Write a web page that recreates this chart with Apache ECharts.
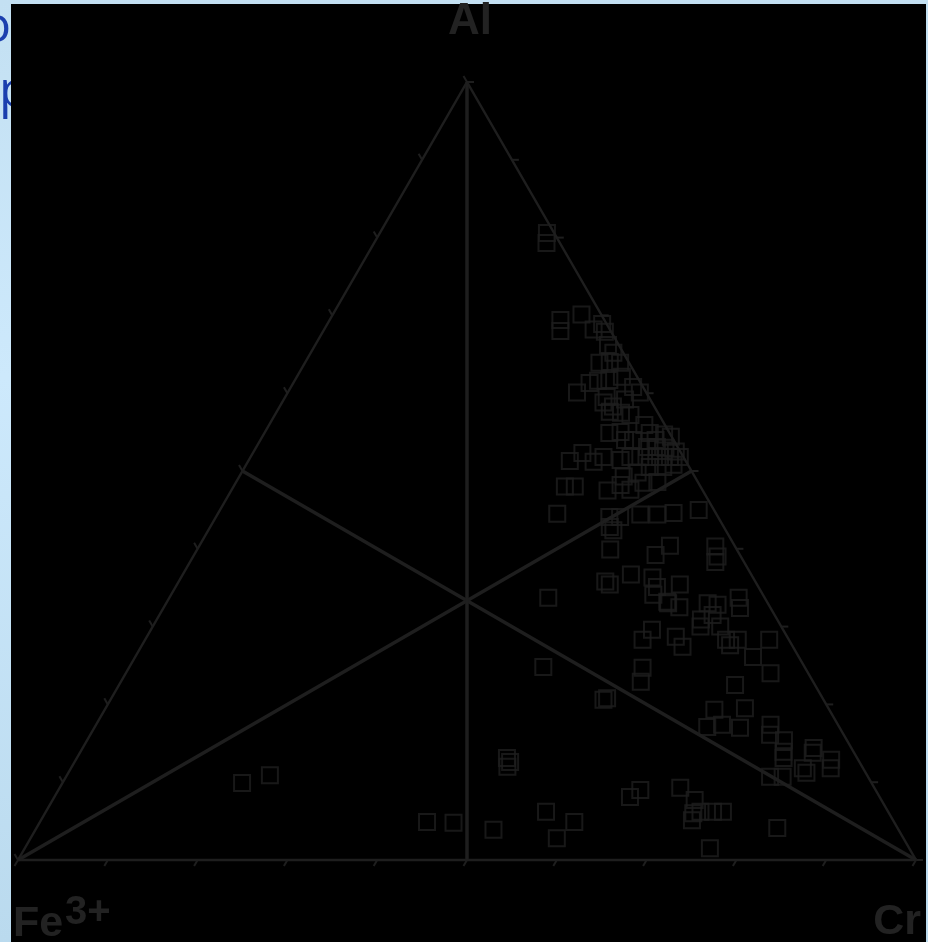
<!DOCTYPE html>
<html>
<head>
<meta charset="utf-8">
<script src="https://cdn.jsdelivr.net/npm/echarts/dist/echarts.min.js"></script>
<style>
  html, body { margin: 0; padding: 0; background: #c6e2f4; }
  #chart { width: 928px; height: 942px; }
</style>
</head>
<body>
<div id="chart"></div>
<script>
// Ternary diagram Al – Cr – Fe3+ (spinel compositions, in %)
const tickSteps = [0, 10, 20, 30, 40, 50, 60, 70, 80, 90, 100];

// Al and Cr percentages of each analysis; Fe3+ is the remainder to 100
const alPct = [
  80.6, 79.3, 69.4, 68.0, 70.1, 68.2, 68.9, 67.9, 66.2, 63.9,
  64.0, 63.9, 65.2, 62.1, 61.3, 60.1, 61.6, 61.7, 60.8, 60.1,
  58.8, 57.6, 57.5, 57.2, 59.5, 54.9, 55.0, 54.9, 54.7, 54.4,
  54.0, 53.1, 53.1, 52.3, 51.3, 51.2, 51.8, 51.4, 51.8, 51.8,
  51.8, 51.8, 51.8, 51.8, 49.3, 49.8, 50.5, 50.5, 50.8, 48.0,
  48.0, 47.5, 48.2, 47.6, 48.5, 48.6, 44.5, 44.1, 44.1, 44.4,
  44.4, 44.6, 45.0, 42.4, 39.9, 40.4, 39.2, 40.3, 39.0, 38.3,
  35.8, 35.4, 36.7, 36.3, 35.1, 34.1, 35.4, 33.7, 33.0, 32.5,
  33.0, 32.8, 33.7, 32.4, 30.9, 31.5, 30.0, 30.0, 29.6, 28.3,
  28.7, 27.4, 28.3, 27.6, 28.3, 28.3, 26.1, 24.8, 24.7, 22.9,
  24.0, 22.5, 20.6, 20.8, 19.3, 19.5, 17.1, 17.4, 17.0, 17.4,
  16.1, 15.4, 13.9, 13.1, 14.4, 13.8, 12.9, 11.8, 11.8, 11.2,
  10.7, 10.7, 13.1, 12.6, 12.0, 9.0, 8.1, 9.3, 7.7, 6.0,
  5.1, 6.2, 6.2, 6.2, 4.1, 1.5, 4.9, 4.8, 3.9, 6.2,
  4.9, 2.8, 9.9, 10.9, 59.2, 55.9, 54.0, 53.0, 52.5, 58.3,
  54.0, 42.8, 33.2
];
const crPct = [
  18.6, 19.2, 25.7, 26.4, 27.7, 30.0, 30.6, 31.4, 32.6, 32.8,
  33.9, 35.1, 33.7, 36.2, 33.0, 32.2, 33.8, 35.0, 38.1, 39.2,
  35.8, 37.1, 38.4, 39.6, 35.8, 38.4, 39.6, 42.9, 44.6, 45.5,
  41.5, 43.5, 44.6, 36.7, 35.8, 38.5, 39.3, 41.4, 42.3, 43.4,
  44.5, 45.6, 46.7, 47.8, 42.8, 44.1, 45.1, 46.6, 47.6, 36.9,
  38.0, 41.9, 43.0, 44.4, 45.4, 46.9, 37.8, 43.8, 45.0, 47.1,
  49.0, 50.7, 53.3, 45.1, 46.0, 52.4, 51.4, 57.5, 58.4, 58.5,
  47.5, 48.2, 49.9, 52.5, 53.6, 53.7, 56.0, 42.2, 55.9, 57.4,
  60.3, 61.5, 63.4, 64.2, 60.6, 61.6, 61.0, 63.2, 55.8, 55.4,
  58.9, 60.3, 64.7, 65.5, 66.0, 69.5, 68.8, 46.1, 57.2, 57.9,
  71.8, 68.6, 54.9, 55.2, 67.9, 71.2, 68.2, 69.7, 71.9, 75.1,
  75.7, 77.6, 78.3, 78.7, 81.4, 81.6, 84.1, 84.6, 81.5, 82.2,
  78.4, 79.8, 47.9, 48.5, 48.5, 64.8, 64.1, 69.1, 71.5, 72.2,
  72.5, 74.3, 75.4, 72.9, 82.5, 76.3, 43.1, 46.1, 51.0, 55.7,
  59.5, 58.6, 20.0, 22.6, 38.0, 41.8, 44.0, 45.6, 47.0, 37.1,
  40.6, 44.5, 55.7
];

const LINE = '#1e1e1e';
const TEXT = '#222222';
const H = Math.sqrt(3) / 2;
const TICK_LEN = 7;

// ternary (Al %, Cr %) -> plane coordinates, Fe3+ corner at origin, Cr corner at (1, 0)
function toXY(al, cr) {
  return [cr / 100 + al / 200, (al / 100) * H];
}

const FE = toXY(0, 0), CR = toXY(0, 100), AL = toXY(100, 0);

// tick marks along the three edges: 0 = Fe–Cr base, 1 = Fe–Al side, 2 = Cr–Al side
const tickDirs = [[-0.5, H], [-0.5, -H], [1, 0]];
const tickData = [];
tickSteps.forEach(t => {
  tickData.push(toXY(0, t).concat(0));
  tickData.push(toXY(t, 0).concat(1));
  tickData.push(toXY(t, 100 - t).concat(2));
});

const points = alPct.map((a, i) => toXY(a, crPct[i]));

function segment(a, b, width) {
  return {
    type: 'line', data: [a, b], symbol: 'none', clip: false, silent: true,
    lineStyle: { color: LINE, width: width }, animation: false, z: 3
  };
}

const chart = echarts.init(document.getElementById('chart'), null, { renderer: 'canvas' });
chart.setOption({
  animation: false,
  backgroundColor: {
    type: 'linear', x: 0, y: 0, x2: 0, y2: 1,
    colorStops: [
      { offset: 0, color: '#c3e0f2' },
      { offset: 0.4, color: '#cde9fc' },
      { offset: 1, color: '#badaee' }
    ]
  },
  graphic: [
    { type: 'text', left: -19, top: 3, style: { text: 'o', fill: '#1b3fae', font: '50px "Open Sans", sans-serif' } },
    { type: 'text', left: -1, top: 68, style: { text: 'p', fill: '#1b3fae', font: '50px "Open Sans", sans-serif' } },
    { type: 'rect', shape: { x: 11, y: 4, width: 915, height: 938 }, style: { fill: '#000000' } },
    { type: 'text', x: 470, y: 22, style: { text: 'Al', fill: TEXT, font: 'bold 44px "Liberation Sans", Arial, sans-serif', align: 'center', verticalAlign: 'middle' } },
    { type: 'text', x: 921, y: 922, style: { text: 'Cr', fill: TEXT, font: 'bold 43px "Liberation Sans", Arial, sans-serif', align: 'right', verticalAlign: 'middle' } },
    { type: 'text', x: 13, y: 924, style: { text: 'Fe', fill: TEXT, font: 'bold 43px "Liberation Sans", Arial, sans-serif', align: 'left', verticalAlign: 'middle' } },
    { type: 'text', x: 65, y: 913, style: { text: '3+', fill: TEXT, font: 'bold 40px "Liberation Sans", Arial, sans-serif', align: 'left', verticalAlign: 'middle' } }
  ],
  grid: { left: 18, right: 12, top: 82, bottom: 82 },
  xAxis: { type: 'value', min: 0, max: 1, show: false },
  yAxis: { type: 'value', min: 0, max: H, show: false },
  series: [
    {
      type: 'line', data: [FE, CR, AL, FE], symbol: 'none', clip: false, silent: true,
      lineStyle: { color: LINE, width: 2.5 }, animation: false, z: 3
    },
    segment(FE, toXY(50, 50), 3.5),
    segment(CR, toXY(50, 0), 3.5),
    segment(AL, toXY(0, 50), 3.5),
    {
      type: 'custom', data: tickData, clip: false, silent: true, z: 3,
      renderItem: function (params, api) {
        const p = api.coord([api.value(0), api.value(1)]);
        const d = tickDirs[api.value(2)];
        return {
          type: 'line',
          shape: { x1: p[0], y1: p[1], x2: p[0] + d[0] * TICK_LEN, y2: p[1] + d[1] * TICK_LEN },
          style: { stroke: LINE, lineWidth: 2 }
        };
      }
    },
    {
      type: 'scatter', data: points, symbol: 'rect', symbolSize: 16, clip: false, z: 4,
      itemStyle: { color: 'rgba(0,0,0,0)', borderColor: LINE, borderWidth: 2 }
    }
  ]
});
</script>
</body>
</html>
